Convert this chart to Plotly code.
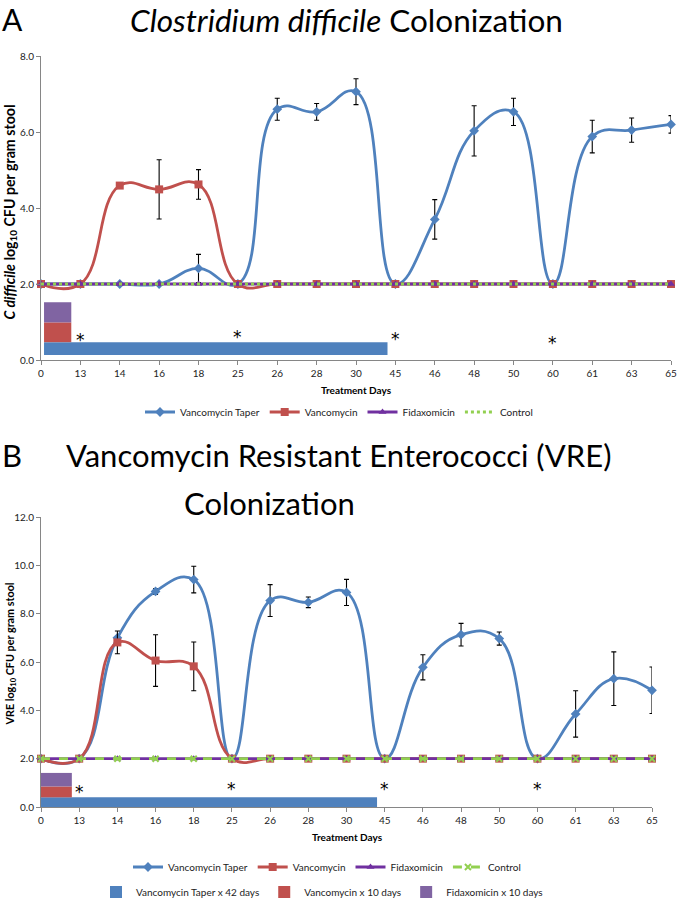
import numpy as np
import plotly.graph_objects as go

W, H = 677, 900

# ---------------- data ----------------
day_labels = ["0", "13", "14", "16", "18", "25", "26", "28", "30",
              "45", "46", "48", "50", "60", "61", "63", "65"]
day_values = [0, 13, 14, 16, 18, 25, 26, 28, 30, 45, 46, 48, 50, 60, 61, 63, 65]

# Panel A: C. difficile (log10 CFU / g stool)
a_taper = [2.0, 2.0, 2.0, 2.0, 2.41, 2.0, 6.60, 6.53, 7.06, 2.0, 3.70, 6.03, 6.53, 2.0, 5.88, 6.05, 6.20]
a_taper_err = [0, 0, 0, 0, 0.37, 0, 0.29, 0.22, 0.34, 0, 0.52, 0.66, 0.36, 0, 0.43, 0.32, 0.23]
a_vanco = [2.0, 2.0, 4.59, 4.49, 4.62, 2.0, 2.0, 2.0, 2.0, 2.0, 2.0, 2.0, 2.0, 2.0, 2.0, 2.0, 2.0]
a_vanco_err = [0, 0, 0, 0.78, 0.39, 0, 0, 0, 0, 0, 0, 0, 0, 0, 0, 0, 0]
a_fidax = [2.0] * 17
a_control = [2.0] * 17

# Panel B: VRE (log10 CFU / g stool)
b_taper = [2.0, 2.0, 7.00, 8.92, 9.41, 2.0, 8.54, 8.47, 8.88, 2.0, 5.78, 7.13, 6.97, 2.0, 3.85, 5.31, 4.83]
b_taper_err = [0, 0, 0, 0.12, 0.55, 0, 0.66, 0.22, 0.54, 0, 0.52, 0.47, 0.27, 0, 0.96, 1.11, 0.96]
b_vanco = [2.0, 2.0, 6.81, 6.06, 5.82, 2.0, 2.0, 2.0, 2.0, 2.0, 2.0, 2.0, 2.0, 2.0, 2.0, 2.0, 2.0]
b_vanco_err = [0, 0, 0.47, 1.07, 1.01, 0, 0, 0, 0, 0, 0, 0, 0, 0, 0, 0, 0]
b_fidax = [2.0] * 17
b_control = [2.0] * 17

# Treatment duration bars (day ranges) and their vertical band [low, high]
treat_names = ["Vancomycin Taper x 42 days", "Vancomycin x 10 days", "Fidaxomicin x 10 days"]
a_treat_start = [1, 1, 1]
a_treat_end = [42, 10, 10]
a_treat_low = [0.13, 0.47, 0.99]
a_treat_high = [0.47, 0.99, 1.52]
b_treat_start = [0, 0, 0]
b_treat_end = [42, 10.5, 10.5]
b_treat_low = [0.0, 0.40, 0.85]
b_treat_high = [0.40, 0.85, 1.41]

# significance asterisks (day, level)
a_star_days = [13, 25, 45, 60]
a_star_y = [0.63, 0.72, 0.66, 0.54]
b_star_days = [13, 25, 45, 60]
b_star_y = [0.79, 0.89, 0.92, 0.89]

series_names = ["Vancomycin Taper", "Vancomycin", "Fidaxomicin", "Control"]

# ---------------- style ----------------
FONT = "Lato"
BLUE, RED, PURPLE, GREEN = "#4F81BD", "#C0504D", "#7030A0", "#92D050"
BAR_COLORS = ["#4F81BD", "#C0504D", "#8064A2"]
AXC = "#868686"
SMOOTH = 1.25

idx = list(range(len(day_labels)))


def pos(day):
    return float(np.interp(day, day_values, idx))


def px(x):
    return x / W


def py(y):
    return 1 - y / H


fig = go.Figure()


def add_panel(xa, ya, taper, taper_err, vanco, vanco_err, fidax, control,
              t_start, t_end, t_low, t_high, legend, bar_legend, control_dash, control_marker):
    # treatment bars
    for name, s, e, lo, hi, col in zip(treat_names, t_start, t_end, t_low, t_high, BAR_COLORS):
        fig.add_trace(go.Bar(
            orientation="h", y=[(lo + hi) / 2], x=[pos(e) - pos(s)], base=[pos(s)],
            width=[hi - lo], marker=dict(color=col, line=dict(width=0)),
            name=name, xaxis=xa, yaxis=ya, legend=bar_legend or "legend",
            showlegend=bar_legend is not None, hoverinfo="skip"))
    err_style = dict(type="data", color="#000000", thickness=1.1, width=2.5)
    fig.add_trace(go.Scatter(
        x=idx, y=taper, name=series_names[0], mode="lines+markers",
        line=dict(color=BLUE, width=2.8, shape="spline", smoothing=SMOOTH),
        marker=dict(symbol="diamond", size=7.5, color=BLUE),
        error_y=dict(array=taper_err, **err_style),
        xaxis=xa, yaxis=ya, legend=legend, cliponaxis=False))
    fig.add_trace(go.Scatter(
        x=idx, y=vanco, name=series_names[1], mode="lines+markers",
        line=dict(color=RED, width=2.8, shape="spline", smoothing=SMOOTH),
        marker=dict(symbol="square", size=8, color=RED),
        error_y=dict(array=vanco_err, **err_style),
        xaxis=xa, yaxis=ya, legend=legend, cliponaxis=False))
    fig.add_trace(go.Scatter(
        x=idx, y=fidax, name=series_names[2], mode="lines+markers",
        line=dict(color=PURPLE, width=2.8),
        marker=dict(symbol="triangle-up", size=7, color=PURPLE),
        xaxis=xa, yaxis=ya, legend=legend, cliponaxis=False))
    fig.add_trace(go.Scatter(
        x=idx, y=control, name=series_names[3],
        mode="lines+markers" if control_marker else "lines",
        line=dict(color=GREEN, width=2.8, dash=control_dash),
        marker=dict(symbol="x-thin", size=6, color=GREEN, line=dict(color=GREEN, width=2)),
        xaxis=xa, yaxis=ya, legend=legend, cliponaxis=False))


add_panel("x", "y", a_taper, a_taper_err, a_vanco, a_vanco_err, a_fidax, a_control,
          a_treat_start, a_treat_end, a_treat_low, a_treat_high, "legend", None, "dot", False)
add_panel("x2", "y2", b_taper, b_taper_err, b_vanco, b_vanco_err, b_fidax, b_control,
          b_treat_start, b_treat_end, b_treat_low, b_treat_high, "legend2", "legend3", "dash", True)

annotations = []
STAR_FONT = dict(family="DejaVu Sans", size=17, color="#000")
for d, yv in zip(a_star_days, a_star_y):
    annotations.append(dict(x=pos(d), y=yv, xref="x", yref="y", text="*", showarrow=False,
                            font=STAR_FONT, yshift=-4))
for d, yv in zip(b_star_days, b_star_y):
    annotations.append(dict(x=pos(d), y=yv, xref="x2", yref="y2", text="*", showarrow=False,
                            font=STAR_FONT, yshift=-4))


def ann(text, x, y, size, angle=0, xanchor="center", yanchor="middle", bold=False, pad=1):
    annotations.append(dict(text=text, x=px(x), y=py(y), xref="paper", yref="paper",
                            showarrow=False, xanchor=xanchor, yanchor=yanchor, textangle=angle,
                            borderpad=pad,
                            font=dict(family=FONT, size=size, color="#000",
                                      weight="bold" if bold else "normal")))


ann("A", 1, 0, 30, xanchor="left", yanchor="top", pad=0)
ann("<i>Clostridium difficile</i> Colonization", 346, 0, 31.5, yanchor="top", pad=0)
ann("B", 0, 455, 31, xanchor="left")
ann("Vancomycin Resistant Enterococci (VRE)", 338, 455, 31)
ann("Colonization", 269, 503, 31)
ann("<i>C difficile</i> log<sub>10</sub> CFU per gram stool", 0, 212, 14.2, angle=-90,
    xanchor="left", bold=True, pad=0)
ann("VRE log<sub>10</sub> CFU per gram stool", 1, 654, 10.8, angle=-90,
    xanchor="left", bold=True, pad=0)
ann("Treatment Days", 356, 390, 10, bold=True)
ann("Treatment Days", 347, 837, 10, bold=True)

xa_common = dict(tickmode="array", tickvals=idx, ticktext=day_labels, showgrid=False,
                 zeroline=False, showline=True, linecolor=AXC, linewidth=1,
                 ticks="outside", ticklen=4, tickcolor=AXC, range=[0, 16], automargin=False,
                 tickfont=dict(family=FONT, size=10, color="#222"))
ya_common = dict(showgrid=False, zeroline=False, showline=True, linecolor=AXC, linewidth=1,
                 ticks="outside", ticklen=4, tickcolor=AXC, tickformat=".1f", dtick=2,
                 automargin=False, tickfont=dict(family=FONT, size=10, color="#222"))

leg_common = dict(orientation="h", xanchor="center", yanchor="middle",
                  font=dict(family=FONT, size=10, color="#222"), bgcolor="rgba(0,0,0,0)")

fig.update_layout(
    width=W, height=H, margin=dict(l=0, r=0, t=0, b=0, autoexpand=False),
    paper_bgcolor="white", plot_bgcolor="white", barmode="overlay",
    font=dict(family=FONT),
    xaxis=dict(domain=[px(41), px(671)], anchor="y", **xa_common),
    yaxis=dict(domain=[py(360), py(56)], anchor="x", range=[0, 8], **ya_common),
    xaxis2=dict(domain=[px(41), px(652)], anchor="y2", **xa_common),
    yaxis2=dict(domain=[py(807), py(517)], anchor="x2", range=[0, 12], **ya_common),
    legend=dict(x=px(339), y=py(412), **leg_common),
    legend2=dict(x=px(327), y=py(867), **leg_common),
    legend3=dict(x=px(322), y=py(892), **leg_common),
    annotations=annotations,
    showlegend=True,
)

# remove the browser's default 8px page margin so the figure sits at the window origin
fig.write_html("out.html", config={"displayModeBar": False},
               post_script="document.body.style.margin='0';document.body.style.overflow='hidden';")
